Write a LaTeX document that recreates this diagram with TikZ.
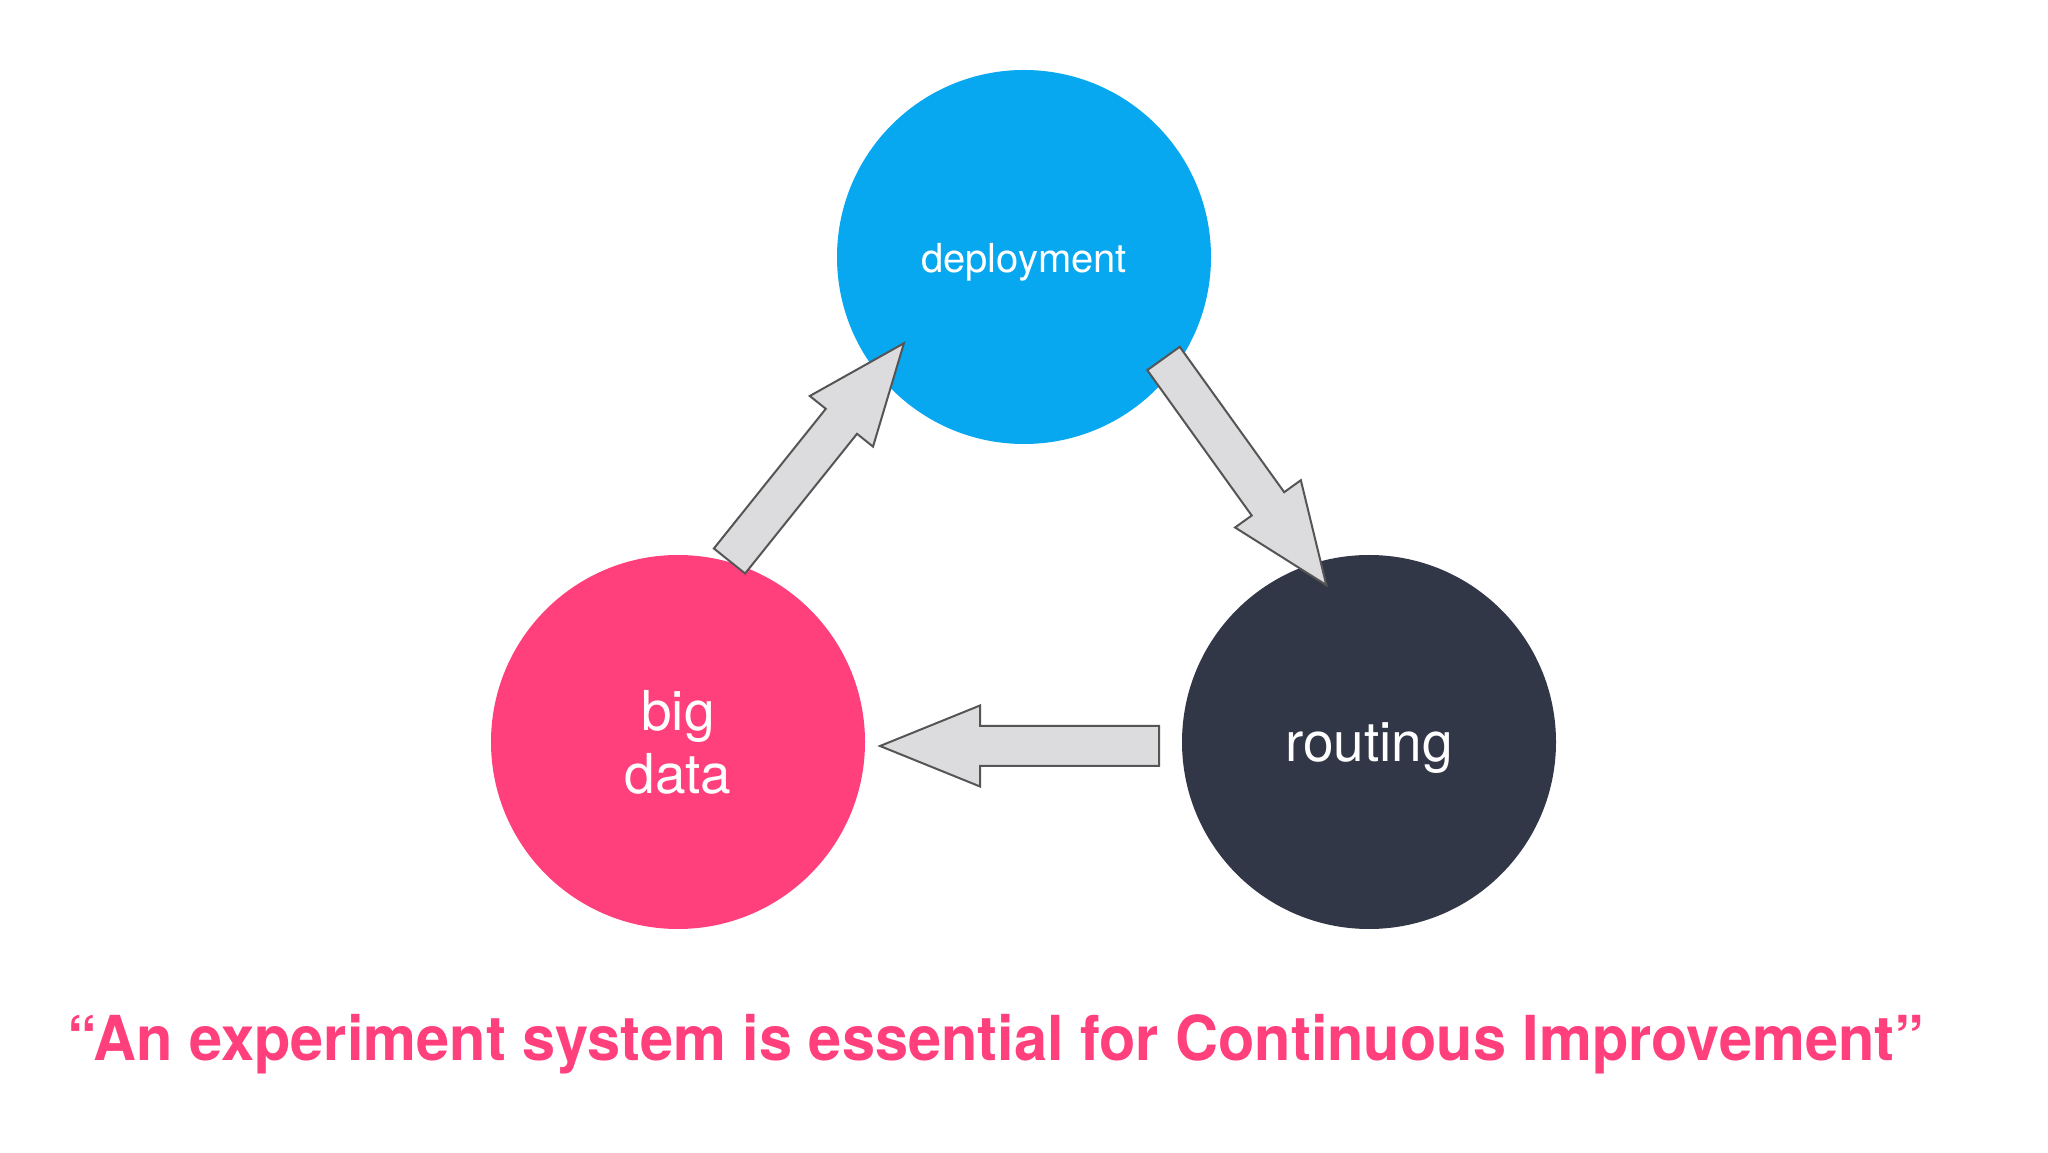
\documentclass[tikz,border=0pt]{standalone}
\usepackage{fontspec}
\setmainfont{TeX Gyre Heros}
\usepackage{graphicx}
\definecolor{depblue}{RGB}{8,168,240}
\definecolor{bigpink}{RGB}{255,64,125}
\definecolor{routedark}{RGB}{50,55,72}
\definecolor{arrowfill}{RGB}{220,220,222}
\definecolor{arrowline}{RGB}{85,85,85}
\tikzset{
  bubble/.style={circle, minimum size=374pt, inner sep=0pt, text=white, align=center},
  bubbletext/.style={text=white, align=center, inner sep=0pt},
  arrowbody/.style={fill=arrowfill, draw=arrowline, line width=2pt, line join=miter},
  barrow/.pic={\draw[arrowbody] (0,20)--(179,20)--(179,40.5)--(279,0)--(179,-40.5)--(179,-20)--(0,-20)--cycle;}
}
\begin{document}
\begin{tikzpicture}[x=1pt,y=1pt]
\fill[white] (0,0) rectangle (2048,1152);
\useasboundingbox (0,0) rectangle (2048,1152);
\node[bubble, fill=depblue, label={[bubbletext, yshift=-5pt, font=\fontsize{40}{48}\selectfont]center:deployment}] (dep) at (1024,895) {};
\node[bubble, fill=bigpink, font=\fontsize{55}{63}\selectfont] (big) at (678,410) {big\\data};
\node[bubble, fill=routedark, label={[bubbletext, yshift=-6pt, font=\fontsize{55}{63}\selectfont]center:routing}] (rout) at (1369,410) {};
\coordinate (t1) at (729.5,591);
\coordinate (t2) at (1163.5,793.5);
\coordinate (t3) at (1159,406);
\pic[rotate=51.3] at (t1) {barrow};
\pic[rotate=-54.3] at (t2) {barrow};
\pic[rotate=180] at (t3) {barrow};
\node[anchor=base, text=bigpink, inner sep=0pt, font=\fontsize{62}{70}\bfseries] (quote) at (996,92)
  {\resizebox{1856pt}{\height}{\fontsize{62}{70}\selectfont\bfseries “An experiment system is essential for Continuous Improvement”}};
\end{tikzpicture}
\end{document}
